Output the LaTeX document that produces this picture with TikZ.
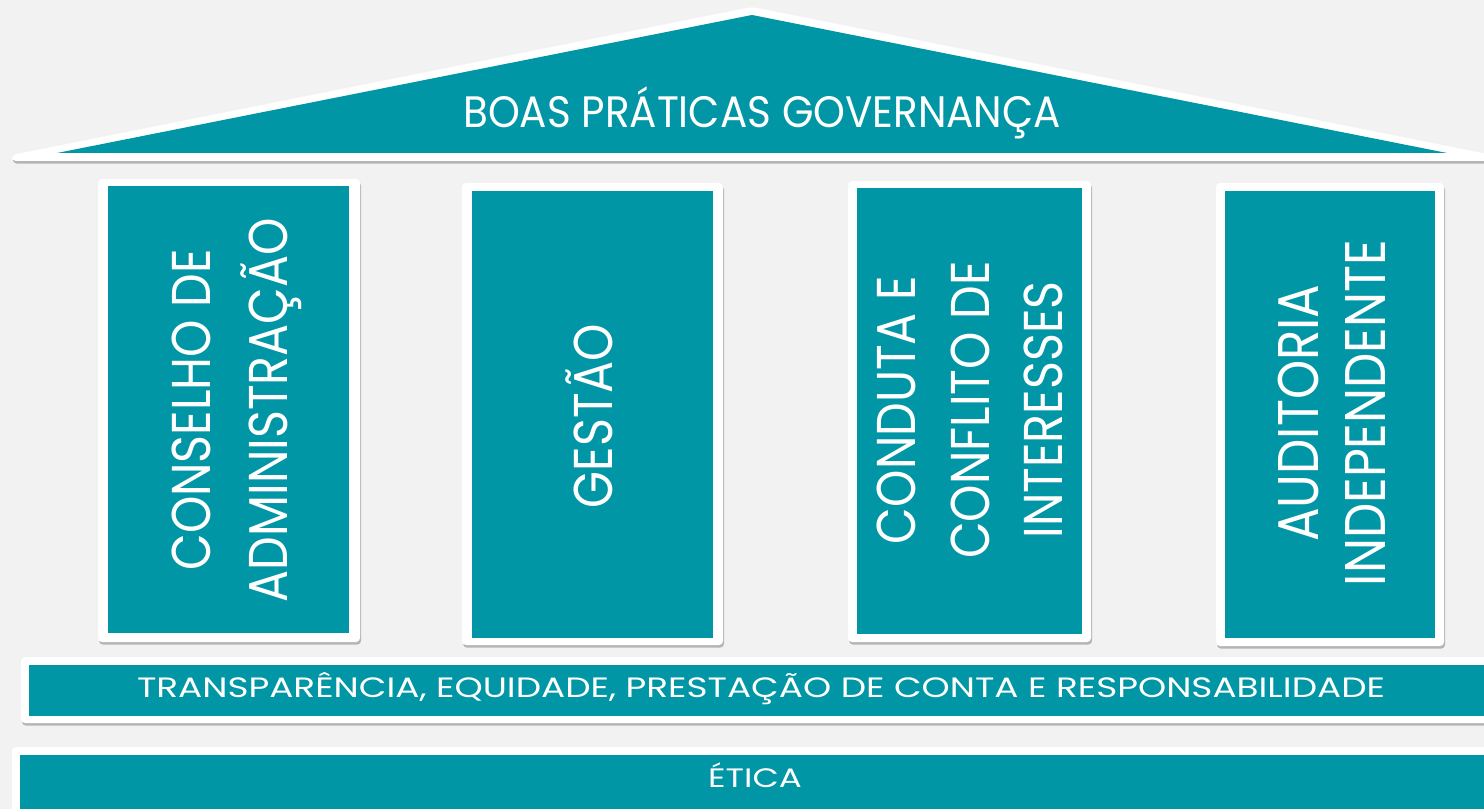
\documentclass[tikz,border=0pt]{standalone}
\usepackage{fontspec}
\setmainfont{Poppins}
\newfontfamily\rooffont[FakeStretch=0.92]{Poppins}
\newfontfamily\pillarfont[FakeStretch=0.87]{Poppins}
\newfontfamily\bandfont[FakeStretch=1.28]{Poppins}
\usetikzlibrary{shadows}
\definecolor{govteal}{RGB}{0,150,166}
\definecolor{govbg}{RGB}{242,242,242}
\tikzset{
  frame/.style={fill=white, rounded corners=3,
    drop shadow={shadow xshift=0.8pt, shadow yshift=-2pt, opacity=0.25, fill=black}},
  panel/.style={fill=govteal},
  pillartext/.style={text=white, rotate=90, align=center, inner sep=0pt,
    font=\pillarfont\fontsize{41}{#1}\selectfont},
  pillartext/.default=58,
  bandtext/.style={text=white, anchor=base, inner sep=0pt,
    font=\bandfont\fontsize{#1}{#1}\selectfont},
  bandtext/.default=21
}
\begin{document}
\begin{tikzpicture}[x=0.75pt,y=-0.75pt]
  \fill[govbg] (0,0) rectangle (1484,809);
  \clip (0,0) rectangle (1484,809);
  % telhado
  \fill[frame] (12,155) -- (752,7) -- (1492,155) -- (1492,161) -- (12,161) -- cycle;
  \fill[panel] (57,153) -- (752,15) -- (1447,153) -- cycle;
  \node[text=white, anchor=base, inner sep=0pt, font=\rooffont\fontsize{33}{33}\selectfont]
    (telhado) at (762,128) {BOAS PRÁTICAS GOVERNANÇA};
  % pilares
  \fill[frame] (98,179) rectangle (360,642);
  \fill[panel] (108,186) rectangle (349,633);
  \node[pillartext=58] (conselho) at (237,410) {CONSELHO DE\\ADMINISTRAÇÃO};
  \fill[frame] (462,183) rectangle (723,645);
  \fill[panel] (472,191) rectangle (713,638);
  \node[pillartext] (gestao) at (589,416) {GESTÃO};
  \fill[frame] (848,181) rectangle (1091,642);
  \fill[panel] (857,188) rectangle (1082,634);
  \node[pillartext=55] (conduta) at (970,410) {CONDUTA E\\CONFLITO DE\\INTERESSES};
  \fill[frame] (1216,183) rectangle (1444,646);
  \fill[panel] (1225,191) rectangle (1435,638);
  \node[pillartext=50, font=\pillarfont\fontsize{43}{50}\selectfont]
    (auditoria) at (1332,413) {AUDITORIA\\INDEPENDENTE};
  % base
  \fill[frame] (21,657) rectangle (1500,723);
  \fill[panel] (29,665) rectangle (1500,716);
  \node[bandtext] (principios) at (761,697) {TRANSPARÊNCIA, EQUIDADE, PRESTAÇÃO DE CONTA E RESPONSABILIDADE};
  \fill[frame] (12,747) rectangle (1500,830);
  \fill[panel] (20,755) rectangle (1500,830);
  \node[bandtext=20] (etica) at (755,787) {ÉTICA};
\end{tikzpicture}
\end{document}
